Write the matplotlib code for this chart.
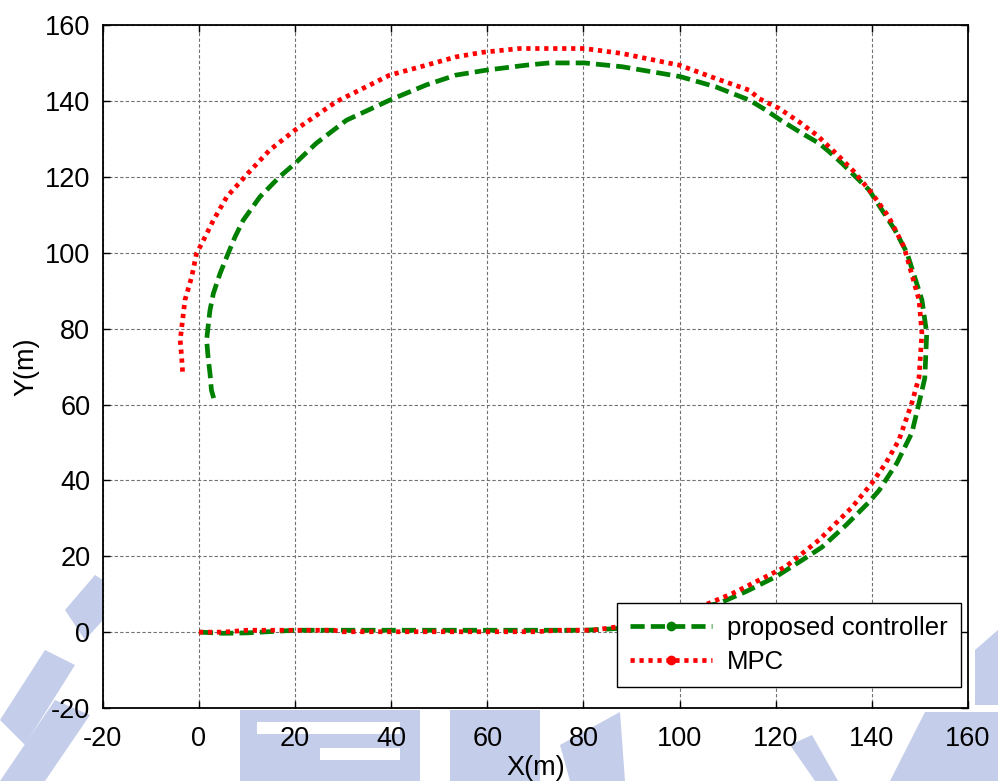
import matplotlib
matplotlib.use("Agg")
import matplotlib.pyplot as plt
from matplotlib.lines import Line2D
from matplotlib.patches import Polygon

# proposed controller trajectory
prop_x = [0, 5, 10, 20, 30, 40, 50, 60, 70, 80, 85, 87.5, 95, 100, 104, 108.2,
          113.8, 120, 125.5, 129.6, 134.6, 139.4, 141.5, 145.2, 148.3, 149.8,
          151, 151.4, 150.4, 147.3, 144.8, 142.1, 139.4, 136.6, 133.8, 131.1,
          129, 125.5, 121, 117.9, 114.5, 107.5, 100.1, 96.4, 88, 80.2, 72.9,
          68, 59.8, 53.5, 47.3, 39.7, 30.7, 24.4, 20, 16.8, 12.7, 9.2, 7.5,
          5.8, 4.4, 3.0, 2.3, 1.9, 1.6, 1.9, 2.3, 2.6, 3.3]
prop_y = [0, -0.3, -0.2, 0.5, 0.5, 0.5, 0.5, 0.5, 0.5, 0.5, 0.8, 1.0, 3.5, 5,
          6.5, 7.6, 10.7, 14.6, 19, 22.4, 28.2, 34.3, 37.4, 44.6, 52.5, 60.4,
          67, 78.8, 87.6, 100, 106, 111.3, 116.6, 120.1, 123.6, 126.7, 128.9,
          131.5, 135, 137.7, 140.3, 143.8, 146.5, 147.3, 149.1, 150.1, 150.1,
          149.5, 148.2, 146.9, 144.3, 140.3, 135, 128.9, 123.6, 120.1, 114.8,
          108.6, 104.2, 99, 94.6, 89.3, 84.9, 80.5, 77, 72.6, 68.2, 63.8, 60.7]

# MPC trajectory
mpc_x = [0, 5, 10, 20, 28, 30, 40, 50, 60, 70, 75, 81.9, 87.1, 95, 100, 106.1,
         111, 116.5, 122, 129, 135.9, 140, 142.9, 145.6, 148.3, 149.8, 150.4,
         149.8, 146.7, 143.5, 140, 136.3, 133.2, 128.6, 124.8, 120.7, 116.5,
         114.5, 107.5, 100, 96.4, 88, 80.2, 66.7, 59, 53.5, 47.3, 39.7, 28.6,
         20, 14.7, 10.2, 5.8, 3.0, 0.6, -0.5, -1.5, -2.9, -3.4, -3.9, -3.6, -3.4]
mpc_y = [0, 0, 0.5, 0.5, 0.5, 0.1, 0.1, 0.1, 0.1, 0.1, 0.5, 0.5, 1.4, 3.5, 5,
         7.6, 10.2, 13.7, 17.2, 24.3, 33, 39.3, 44.6, 50.6, 60.4, 67.2, 78.8,
         87.6, 101.5, 109.5, 115.7, 121.4, 125.4, 131, 134.6, 138.1, 140.7,
         142.9, 146, 149.5, 150.4, 152.6, 153.9, 153.9, 152.9, 151.7, 149.5,
         146.9, 139.9, 132.4, 127.1, 121, 114.8, 108.6, 102.5, 99.9, 93.7, 87.6,
         82.3, 77, 72.6, 68.6]

ticks = list(range(-20, 161, 20))

plt.rcParams["font.family"] = ["Liberation Sans", "DejaVu Sans"]
plt.rcParams["axes.unicode_minus"] = False

W, H = 998, 781
fig = plt.figure(figsize=(W / 100, H / 100), dpi=100)


def wm(pts, color="#c4cdea"):
    # faint watermark shapes behind the axes, given in pixel coords
    poly = Polygon([(x / W, 1 - y / H) for x, y in pts], closed=True,
                   transform=fig.transFigure, facecolor=color,
                   edgecolor="none", zorder=-5)
    fig.patches.append(poly)


wm([(0, 720), (45, 650), (75, 665), (25, 745)])
wm([(0, 781), (55, 700), (90, 715), (45, 781)])
wm([(65, 610), (95, 575), (103, 580), (103, 620), (85, 640)])
wm([(240, 710), (420, 710), (420, 781), (240, 781)])
wm([(257, 722), (400, 722), (400, 734), (257, 734)], "white")
wm([(320, 748), (400, 748), (400, 760), (320, 760)], "white")
wm([(450, 710), (540, 710), (540, 781), (450, 781)])
wm([(560, 745), (620, 712), (625, 781), (570, 781)])
wm([(790, 745), (812, 735), (838, 781), (815, 781)])
wm([(890, 781), (925, 712), (998, 712), (998, 781)])
wm([(975, 650), (998, 630), (998, 705), (975, 705)])

ax = fig.add_axes([0.103, 0.0935, 0.867, 0.874])

green = (0, 0.5, 0)
ax.plot(prop_x, prop_y, color=green, lw=3.4, dashes=(3.0, 1.3), dash_capstyle="butt")
ax.plot(mpc_x, mpc_y, color="red", lw=3.4, dashes=(0.9, 1.0), dash_capstyle="butt")

ax.set_xlim(-20, 160)
ax.set_ylim(-20, 160)
ax.set_xticks(ticks)
ax.set_yticks(ticks)
ax.tick_params(direction="in", length=5, width=1, labelsize=19.5, top=True, right=True, pad=9)
ax.tick_params(axis="x", pad=13)
ax.grid(True, color="#707070", linestyle=(0, (3, 2)), linewidth=0.8)
for s in ax.spines.values():
    s.set_linewidth(1.3)

ax.set_xlabel("X(m)", fontsize=19.5, labelpad=2)
ax.set_ylabel("Y(m)", fontsize=19.5, labelpad=4)

handles = [
    Line2D([], [], color=green, lw=3.4, dashes=(3.0, 1.3), marker="o", markersize=6),
    Line2D([], [], color="red", lw=3.4, dashes=(0.9, 1.0), marker="o", markersize=6),
]
leg = ax.legend(handles, ["proposed controller", "MPC"], loc="lower right",
                bbox_to_anchor=(1.0065, 0.0125), fontsize=18.5, fancybox=False,
                edgecolor="black", framealpha=1, handlelength=3.2,
                borderpad=0.5, labelspacing=0.38, handletextpad=0.6)
leg.get_frame().set_linewidth(1.0)

fig.savefig("out.png", dpi=100)
